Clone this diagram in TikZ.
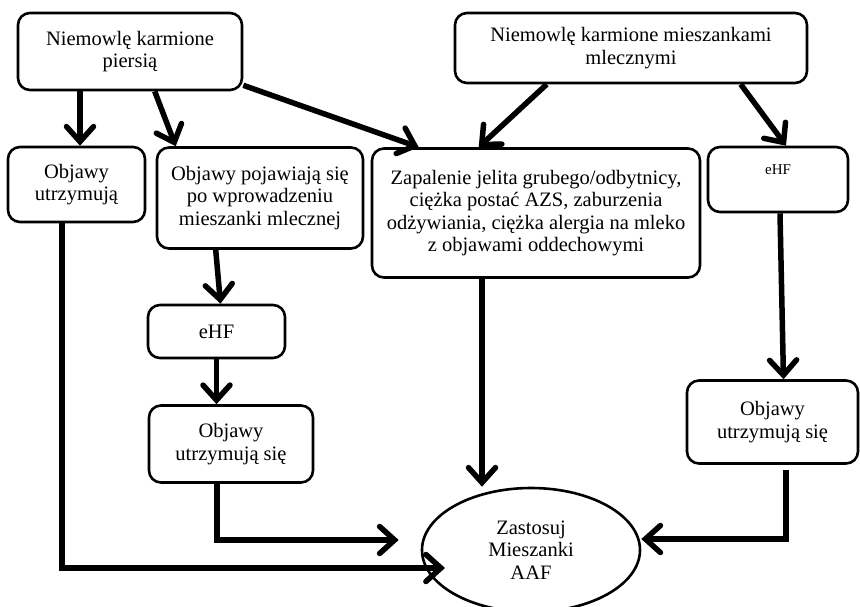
\documentclass[tikz,border=0pt]{standalone}
\usepackage{fontspec}
\setmainfont{Liberation Serif}
\usetikzlibrary{arrows.meta,shapes.geometric,calc}
\newcommand\fsmain{\fontsize{20.5}{22.5}\selectfont}
\newcommand\fssmall{\fontsize{15}{17}\selectfont}
\begin{document}
\begin{tikzpicture}[x=1pt,y=-1pt,
  box/.style={draw, line width=2.6pt, rounded corners=12pt, align=center, font=\fsmain, inner sep=0pt, fill=white},
  arr/.style={line width=5.5pt, -{Straight Barb[length=15pt,width=27pt,line cap=round]}}]
\useasboundingbox (0,0) rectangle (860,607);
\fill[white] (0,0) rectangle (860,607);
% boxes
\node[box, minimum width=224pt, minimum height=77pt] (A) at (130,51.5) {Niemowlę karmione\\piersią};
\node[box, minimum width=352pt, minimum height=70pt] (B) at (631,48) {Niemowlę karmione mieszankami\\mlecznymi};
\node[box, minimum width=137pt, minimum height=75pt] (C) at (76.5,184.5) {Objawy\\utrzymują};
\node[box, minimum width=206pt, minimum height=101pt] (D) at (260,198) {Objawy pojawiają się\\po wprowadzeniu\\mieszanki mlecznej};
\node[box, minimum width=328pt, minimum height=129pt] (E) at (536,213) {Zapalenie jelita grubego/odbytnicy,\\ciężka postać AZS, zaburzenia\\odżywiania, ciężka alergia na mleko\\z objawami oddechowymi};
\node[box, minimum width=140pt, minimum height=65pt] (F) at (778,179.5) {};
\node[font=\fssmall, inner sep=0pt] (Ft) at (778,170) {eHF};
\node[box, minimum width=137pt, minimum height=53pt] (G) at (216.5,331.5) {eHF};
\node[box, minimum width=164pt, minimum height=77pt] (H) at (231,444) {Objawy\\utrzymują się};
\node[box, minimum width=171pt, minimum height=83pt] (I) at (772.5,422) {Objawy\\utrzymują się};
\node[draw, ellipse, line width=2.6pt, minimum width=218pt, minimum height=124pt, align=center, font=\fsmain, inner sep=0pt, fill=white] (Z) at (531,550) {Zastosuj\\Mieszanki\\AAF};
% connectors
\draw[arr] ([xshift=3.5pt]C.north |- A.south) -- ([xshift=3.5pt]C.north);
\draw[arr] ($(A.south west)+(138,0)$) -- ($(D.north west)+(20,0)$);
\draw[arr] ($(A.south east)+(0,-6)$) -- ($(E.north west)+(48,0)$);
\draw[arr] ($(B.south west)+(93,0)$) -- ($(E.north west)+(108,0)$);
\draw[arr] ($(B.south west)+(287,0)$) -- ([xshift=8pt]F.north);
\draw[arr] ($(D.south west)+(60,0)$) -- ([xshift=4pt]G.north);
\draw[arr] (G.south) -- (G.south |- H.north);
\draw[arr] ([xshift=2pt]F.south) -- ([xshift=11pt]I.north);
\draw[arr] ([xshift=-54pt]E.south) -- ([xshift=-54pt]E.south |- Z.north);
\draw[arr, shorten >=22pt] ([xshift=-14pt]H.south) |- ([yshift=10pt]Z.west);
\coordinate (zc) at ($(Z.center)+(-86,18)$);
\draw[arr] ([xshift=-14.5pt]C.south) |- (zc);
\draw[arr] ($(I.south)+(13.5,5)$) |- ([yshift=11pt]Z.east);
\end{tikzpicture}
\end{document}
